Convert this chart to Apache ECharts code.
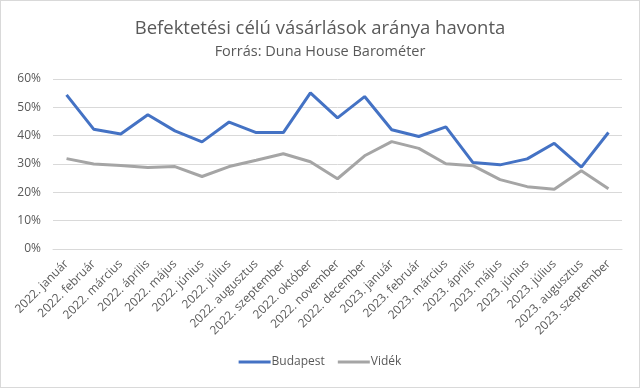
<!DOCTYPE html>
<html><head><meta charset="utf-8">
<script src="https://cdn.jsdelivr.net/npm/echarts@6/dist/echarts.min.js"></script>
<style>html,body{margin:0;padding:0;background:#fff}#c{width:640px;height:388px;box-sizing:border-box;border:1px solid #d9d9d9}</style>
</head><body><div id="c"></div>
<script>
const categories = ["2022. január","2022. február","2022. március","2022. április","2022. május","2022. június","2022. július","2022. augusztus","2022. szeptember","2022. október","2022. november","2022. december","2023. január","2023. február","2023. március","2023. április","2023. május","2023. június","2023. július","2023. augusztus","2023. szeptember"];
const budapest = [54.4,42.3,40.6,47.4,41.7,37.8,44.8,41.1,41.1,55.1,46.3,53.8,42.1,39.7,43.1,30.5,29.7,31.8,37.3,28.9,41.1];
const videk = [31.9,30.0,29.5,28.8,29.1,25.6,29.1,31.3,33.6,30.8,24.8,32.9,37.9,35.5,30.1,29.4,24.5,22.0,21.1,27.6,21.3];
const seriesNames = ["Budapest","Vidék"];
const titleText = "Befektetési célú vásárlások aránya havonta";
const subtitleText = "Forrás: Duna House Barométer";
const font = "'Open Sans', sans-serif";
const chart = echarts.init(document.getElementById('c'));
chart.setOption({
  animation:false,
  title:{text:titleText,subtext:subtitleText,left:'center',top:13,itemGap:6,
    textStyle:{fontFamily:font,fontSize:18.5,fontWeight:'normal',color:'#595959'},
    subtextStyle:{fontFamily:font,fontSize:14.5,color:'#595959'}},
  legend:{bottom:14,left:'center',itemWidth:32,itemHeight:3,itemGap:13,
    textStyle:{fontFamily:font,fontSize:12,color:'#595959',padding:[0,0,0,-4]},
    data:seriesNames.map(n=>({name:n,icon:'rect'}))},
  grid:{left:52,right:17,top:78,bottom:138,containLabel:false},
  xAxis:{type:'category',data:categories,boundaryGap:true,
    axisLine:{show:true,lineStyle:{color:'#d9d9d9'}},axisTick:{show:false},
    axisLabel:{rotate:45,interval:0,margin:13,fontFamily:font,fontSize:12,color:'#595959'}},
  yAxis:{type:'value',min:0,max:60,interval:10,
    axisLabel:{formatter:'{value}%',fontFamily:font,fontSize:12,color:'#595959',margin:12},
    axisLine:{show:false},axisTick:{show:false},
    splitLine:{lineStyle:{color:'#d9d9d9'}}},
  series:[
    {name:seriesNames[0],type:'line',data:budapest,showSymbol:false,lineStyle:{width:3,color:'#4472C4'},itemStyle:{color:'#4472C4'}},
    {name:seriesNames[1],type:'line',data:videk,showSymbol:false,lineStyle:{width:3,color:'#A5A5A5'},itemStyle:{color:'#A5A5A5'}}
  ]
});
</script></body></html>
